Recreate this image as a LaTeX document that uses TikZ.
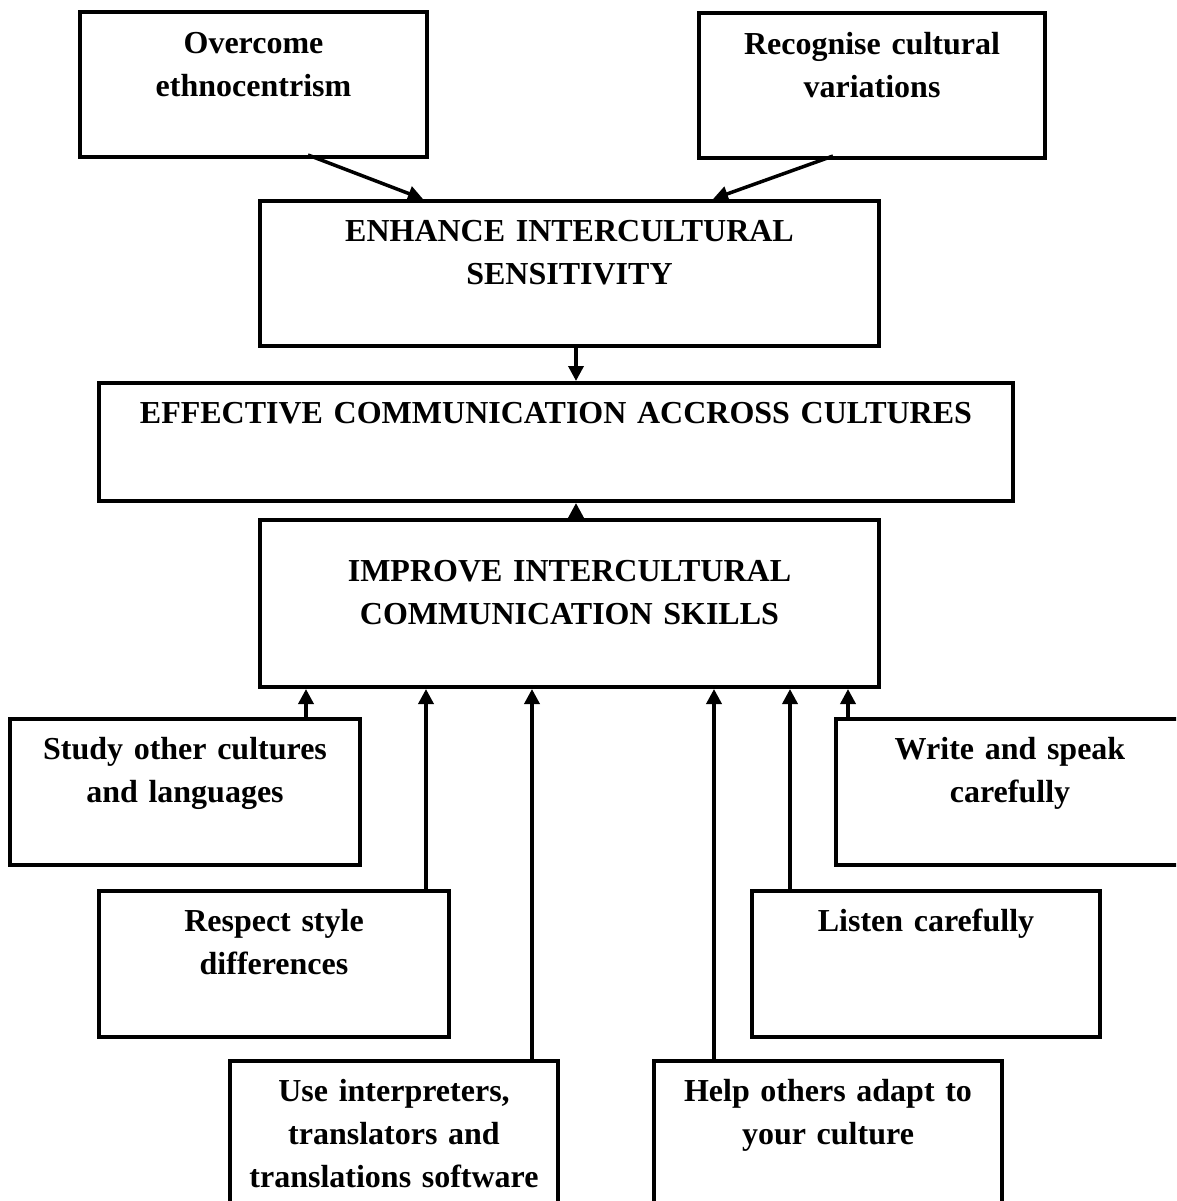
\documentclass[tikz,border=0pt]{standalone}
\usepackage{fontspec}
\setmainfont{Liberation Serif}
\usetikzlibrary{arrows.meta,calc}
\begin{document}
\begin{tikzpicture}[x=1pt,y=-1pt,
  boxst/.style={draw,line width=4pt,inner sep=0pt,anchor=north west},
  txt/.style={font=\fontsize{32}{43}\selectfont\bfseries,align=center,inner sep=0pt,anchor=north,text width=#1},
  txt/.default=340pt,
  arr/.style={line width=3.5pt,-{Triangle[width=15pt,length=15pt]}}]
\useasboundingbox (0,0) rectangle (1176,1201);
\clip (0,0) rectangle (1176,1201);
\newcommand{\bx}[5]{\node[boxst,minimum width=#4pt-#2pt,minimum height=#5pt-#3pt] (#1) at (#2,#3) {};}
\bx{over}{78}{10}{425}{155}
\bx{recog}{697}{11}{1043}{156}
\bx{enh}{258}{199}{877}{344}
\bx{eff}{97}{381}{1011}{499}
\bx{imp}{258}{518}{877}{685}
\bx{study}{8}{717}{358}{863}
\bx{write}{834}{717}{1182}{863}
\bx{respect}{97}{889}{447}{1035}
\bx{listen}{750}{889}{1098}{1035}
\bx{use}{228}{1059}{556}{1215}
\bx{help}{652}{1059}{1000}{1215}
\newcommand{\st}{\rule{0pt}{30pt}}
\node[txt] (t1) at ($(over.north)+(0,13)$) {\st Overcome\\ethnocentrism};
\node[txt] (t2) at ($(recog.north)+(0,13)$) {\st Recognise cultural\\variations};
\node[txt=600pt] (t3) at ($(enh.north)+(0,12)$) {\st ENHANCE INTERCULTURAL\\SENSITIVITY};
\node[txt=900pt] (t4) at ($(eff.north)+(0,12)$) {\st EFFECTIVE COMMUNICATION ACCROSS CULTURES};
\node[txt=600pt] (t5) at ($(imp.north)+(0,33)$) {\st IMPROVE INTERCULTURAL\\COMMUNICATION SKILLS};
\node[txt] (t6) at ($(study.north)+(0,12)$) {\st Study other cultures\\and languages};
\node[txt] (t7) at ($(write.north)+(0,12)$) {\st Write and speak\\carefully};
\node[txt] (t8) at ($(respect.north)+(0,12)$) {\st Respect style\\differences};
\node[txt] (t9) at ($(listen.north)+(0,12)$) {\st Listen carefully};
\node[txt] (t10) at ($(use.north)+(0,12)$) {\st Use interpreters,\\translators and\\translations software};
\node[txt] (t11) at ($(help.north)+(0,12)$) {\st Help others adapt to\\your culture};
\coordinate (a1) at (308,155);
\coordinate (b1) at (423,0);
\coordinate (a2) at (833,156);
\coordinate (b2) at (713,0);
\draw[arr] (a1) -- (enh.north -| b1);
\draw[arr] (a2) -- (enh.north -| b2);
\coordinate (c) at (576,0);
\draw[arr] (enh.south -| c) -- (eff.north -| c);
\draw[arr] (imp.north -| c) -- (eff.south -| c);
\coordinate (x1) at (306,0);
\coordinate (x2) at (426,0);
\coordinate (x3) at (532,0);
\coordinate (x4) at (714,0);
\coordinate (x5) at (790,0);
\coordinate (x6) at (848,0);
\draw[arr] (study.north -| x1) -- (imp.south -| x1);
\draw[arr] (respect.north -| x2) -- (imp.south -| x2);
\draw[arr] (use.north -| x3) -- (imp.south -| x3);
\draw[arr] (help.north -| x4) -- (imp.south -| x4);
\draw[arr] (listen.north -| x5) -- (imp.south -| x5);
\draw[arr] (write.north -| x6) -- (imp.south -| x6);
\end{tikzpicture}
\end{document}
